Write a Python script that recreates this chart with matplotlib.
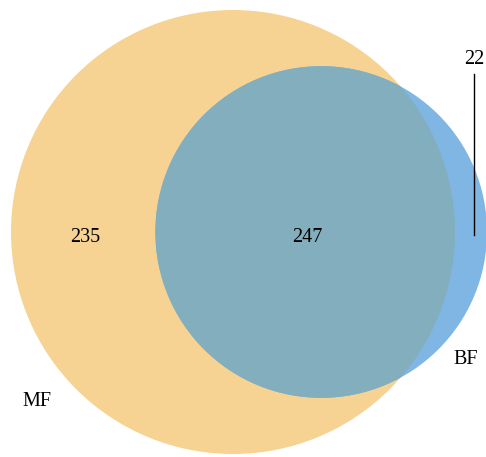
import numpy as np
import matplotlib
matplotlib.use("Agg")
import matplotlib.pyplot as plt
from matplotlib.patches import Circle

# Venn counts
set_names = ["MF", "BF"]
only_mf = 235
both = 247
only_bf = 22

color_mf = "#F6D392"
color_bf = "#7FB6E4"
color_both = "#82AEBD"

plt.rcParams['font.family'] = ['Liberation Serif', 'DejaVu Serif']

# area-proportional radii
size_mf = only_mf + both
size_bf = only_bf + both
r1 = np.sqrt(size_mf / np.pi)
r2 = np.sqrt(size_bf / np.pi)


def lens_area(d):
    if d >= r1 + r2:
        return 0.0
    if d <= abs(r1 - r2):
        return np.pi * min(r1, r2) ** 2
    a1 = r1 ** 2 * np.arccos((d ** 2 + r1 ** 2 - r2 ** 2) / (2 * d * r1))
    a2 = r2 ** 2 * np.arccos((d ** 2 + r2 ** 2 - r1 ** 2) / (2 * d * r2))
    a3 = 0.5 * np.sqrt((-d + r1 + r2) * (d + r1 - r2) * (d - r1 + r2) * (d + r1 + r2))
    return a1 + a2 - a3


# solve for the centre distance giving the shared area
lo, hi = abs(r1 - r2), r1 + r2
for _ in range(100):
    mid = (lo + hi) / 2
    if lens_area(mid) > both:
        lo = mid
    else:
        hi = mid
d = (lo + hi) / 2

W, H = 486, 457
fig = plt.figure(figsize=(W / 100, H / 100), dpi=100)
ax = fig.add_axes([0, 0, 1, 1])
ax.axis('off')

# pixel mapping: MF centre at (233, 232), radius 222 px
s = 222 / r1
cx, cy = 233, 232
ax.set_xlim(-cx / s, (W - cx) / s)
ax.set_ylim(-(H - cy) / s, cy / s)
ax.set_aspect('equal')

c_mf = Circle((0, 0), r1, color=color_mf, lw=0)
c_bf = Circle((d, 0), r2, color=color_bf, lw=0)
ax.add_patch(c_mf)
ax.add_patch(c_bf)
c_both = Circle((d, 0), r2, color=color_both, lw=0)
ax.add_patch(c_both)
c_both.set_clip_path(c_mf)


def px(x, y):
    return (x - cx) / s, (cy - y) / s


fs = 14.5
ax.text(*px(85, 237), str(only_mf), fontsize=fs, ha='center', va='center')
ax.text(*px(307, 237), str(both), fontsize=fs, ha='center', va='center')
ax.text(*px(474, 60), str(only_bf), fontsize=fs, ha='center', va='center')
x0, y0 = px(474, 74)
x1, y1 = px(474, 235)
ax.plot([x0, x1], [y0, y1], color='black', lw=1)
ax.text(*px(37, 401), set_names[0], fontsize=fs, ha='center', va='center')
ax.text(*px(466, 359), set_names[1], fontsize=fs, ha='center', va='center')

fig.savefig("out.png", dpi=100)
